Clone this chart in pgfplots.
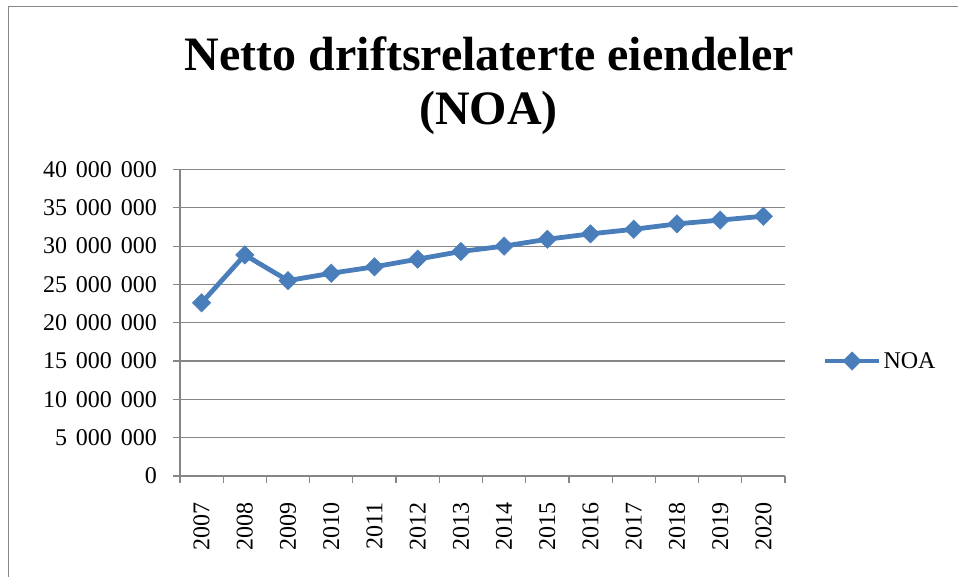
\documentclass[border=0pt]{standalone}
\usepackage{fontspec}
\setmainfont{Liberation Serif}
\usepackage{pgfplots}
\pgfplotsset{compat=1.18}
\definecolor{xlblue}{RGB}{74,126,187}
\definecolor{xlgray}{RGB}{134,134,134}
\newcommand{\ts}{\hspace{0.37em}}
\begin{document}
\begin{tikzpicture}[x=1pt,y=1pt]
\useasboundingbox (0,0) rectangle (958,577);
\draw[xlgray,line width=1.2pt] (8.5,0) -- (8.5,570.5) -- (958,570.5);
\node[font=\bfseries\fontsize{48}{56}\selectfont, anchor=base, inner sep=0pt] at (489.5,506) {Netto driftsrelaterte eiendeler};
\node[font=\bfseries\fontsize{48}{56}\selectfont, anchor=base, inner sep=0pt] at (488.5,452) {(NOA)};
\begin{axis}[
  at={(180pt,101pt)}, anchor=south west,
  width=605pt, height=306.5pt, scale only axis,
  xmin=-0.5, xmax=13.5, ymin=0, ymax=40000000,
  axis x line=bottom, axis y line=left,
  axis line style={-, xlgray, line width=1.2pt},
  xtick={0,...,13},
  xticklabels={2007,2008,2009,2010,2011,2012,2013,2014,2015,2016,2017,2018,2019,2020},
  minor xtick={-0.5,0.5,...,13.5},
  major x tick style={draw=none},
  minor tick length=7pt,
  tick align=outside,
  tick style={xlgray, line width=1.2pt},
  major tick length=7pt,
  ytick={0,5000000,...,40000000},
  yticklabels={0,{5\ts000\ts000},{10\ts000\ts000},{15\ts000\ts000},{20\ts000\ts000},{25\ts000\ts000},{30\ts000\ts000},{35\ts000\ts000},{40\ts000\ts000}},
  scaled y ticks=false,
  ymajorgrids, grid style={xlgray, line width=1.2pt},
  tick label style={font=\fontsize{24}{28}\selectfont, inner sep=0pt},
  xticklabel style={rotate=90, anchor=east},
  xticklabel shift=19pt,
  yticklabel style={anchor=east},
  yticklabel shift=16pt,
  legend style={at={(1.062,0.375)}, anchor=west, draw=none, fill=none, inner sep=0pt, font=\fontsize{24}{28}\selectfont},
  legend cell align=left,
  legend image code/.code={\draw[mark repeat=2,mark phase=2,#1] plot coordinates {(0pt,0pt) (27pt,0pt) (54pt,0pt)};},
]
\addplot[xlblue, line width=4.8pt, mark=square*, mark size=6.5pt, mark options={rotate=45, solid, line width=0.5pt, fill=xlblue}]
  coordinates {(0,22600000) (1,28850000) (2,25500000) (3,26460000) (4,27300000) (5,28300000) (6,29300000) (7,30000000) (8,30900000) (9,31600000) (10,32200000) (11,32900000) (12,33400000) (13,33900000)};
\addlegendentry{NOA}
\end{axis}
\end{tikzpicture}
\end{document}
